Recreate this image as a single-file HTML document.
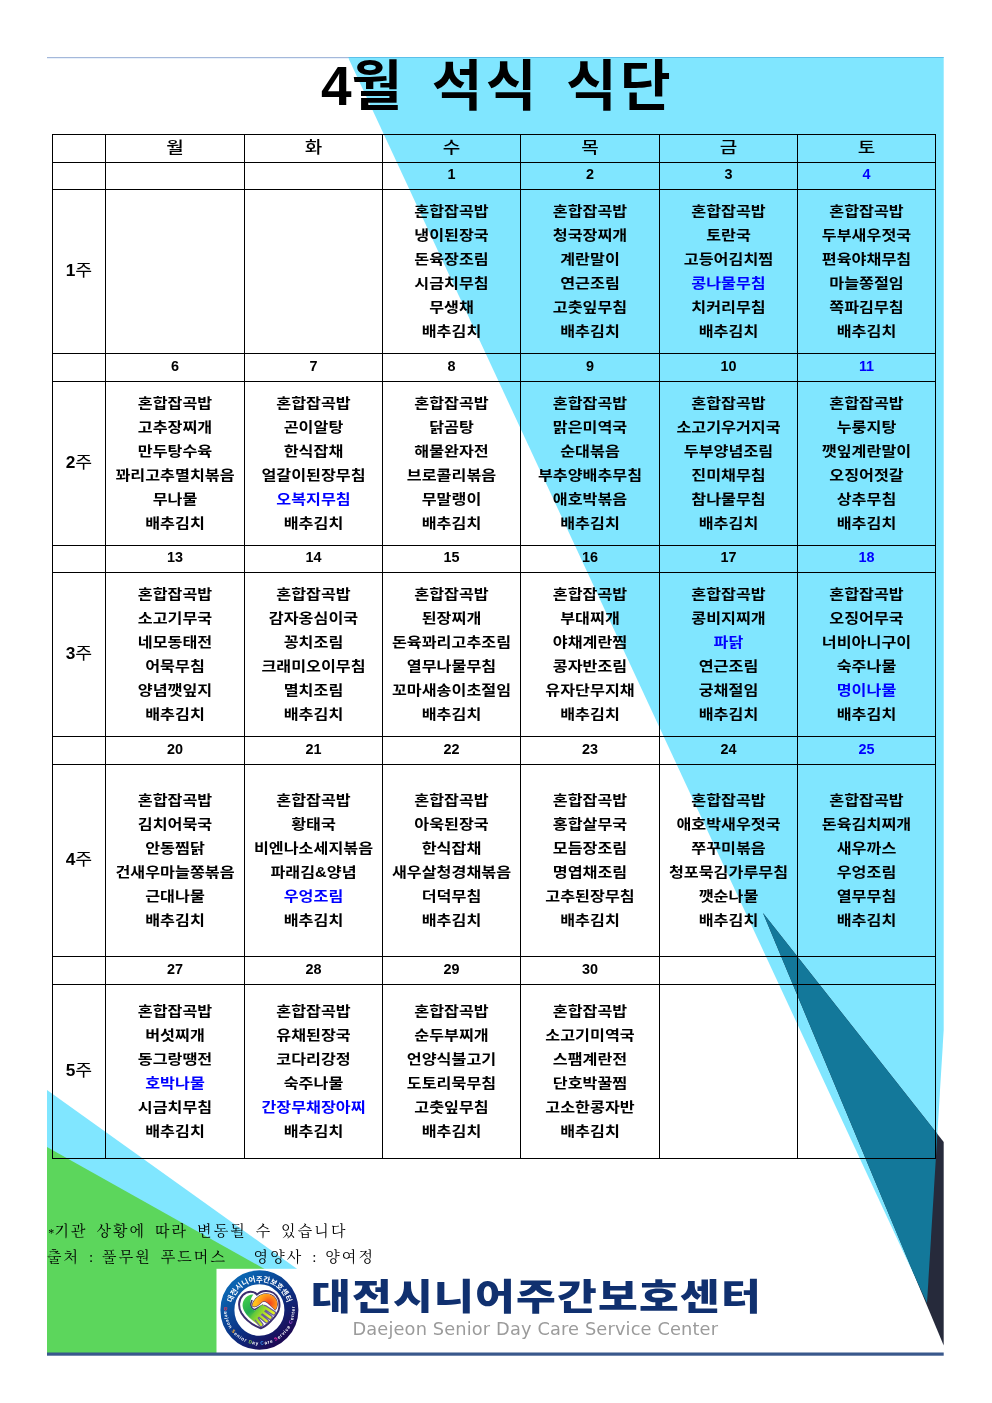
<!DOCTYPE html>
<html><head><meta charset="utf-8"><title>4월 석식 식단</title>
<style>
html,body{margin:0;padding:0;background:#fff;width:992px;height:1403px;overflow:hidden}
#pg{position:relative;width:992px;height:1403px;overflow:hidden;background:#fff;font-family:"Liberation Sans","Noto Sans CJK KR",sans-serif;color:#000}
#bg{position:absolute;left:0;top:0}
.ln{position:absolute;background:#000}
.c{position:absolute;text-align:center;white-space:nowrap}
.m{transform:scaleX(1.165);transform-origin:50% 50%;font-family:"Liberation Sans","Noto Sans CJK KR",sans-serif;font-weight:700;font-size:13.9px;line-height:24px;letter-spacing:0px}
.m div{height:24px}
.b{color:#0000ff}
.d{font-family:"Liberation Sans","Noto Sans CJK KR",sans-serif;font-weight:700;font-size:16px;transform:scale(0.9,0.97)}
.h{font-family:"Liberation Sans","Noto Sans CJK KR",sans-serif;font-weight:500;font-size:15.9px;transform:scaleX(1.2)}
.w{font-family:"Liberation Sans","Noto Sans CJK KR",sans-serif;font-weight:400;font-size:17px;transform:scaleX(1.08)}
.w b{font-family:"Liberation Sans",sans-serif;font-weight:700;font-size:16px}
#title{position:absolute;left:1.5px;top:58px;width:992px;text-align:center;font-family:"Liberation Sans","Noto Sans CJK KR",sans-serif;font-weight:700;font-size:55px;line-height:56px;white-space:pre;word-spacing:7.5px;letter-spacing:3.4px}
#title span{letter-spacing:0}
.note{position:absolute;left:47px;font-family:"Liberation Serif","Noto Serif CJK SC",serif;font-size:15px;line-height:20px;white-space:pre;letter-spacing:2.1px;word-spacing:3px}
.note span{letter-spacing:0}
#lg1{position:absolute;left:310.5px;top:1272px;transform:scaleX(1.2);transform-origin:0 0;font-family:"Liberation Sans","Noto Sans CJK KR",sans-serif;font-weight:900;font-size:36px;line-height:52px;color:#10306f;white-space:nowrap;letter-spacing:1.05px}
#lg2{position:absolute;left:352.5px;top:1318px;font-family:"DejaVu Sans","Liberation Sans",sans-serif;font-weight:400;font-size:17.8px;line-height:22px;color:#9b9b9b;white-space:nowrap;letter-spacing:0.14px}
</style></head><body><div id="pg">
<svg id="bg" width="992" height="1403" viewBox="0 0 992 1403">
<defs>
<linearGradient id="ring" x1="0.15" y1="0.1" x2="0.85" y2="0.95"><stop offset="0" stop-color="#0a63b0"/><stop offset="0.55" stop-color="#0b2f82"/><stop offset="1" stop-color="#1c0a55"/></linearGradient>
<linearGradient id="gl" gradientUnits="userSpaceOnUse" x1="-15" y1="-13" x2="2" y2="12"><stop offset="0" stop-color="#43cf4a"/><stop offset="0.5" stop-color="#22ab50"/><stop offset="0.8" stop-color="#7fd036"/><stop offset="1" stop-color="#d8ec22"/></linearGradient>
<radialGradient id="go" gradientUnits="userSpaceOnUse" cx="9.5" cy="-6.5" r="13"><stop offset="0" stop-color="#f23a1e"/><stop offset="0.55" stop-color="#ff8a1a"/><stop offset="1" stop-color="#ffc21c"/></radialGradient>
<linearGradient id="gh" gradientUnits="userSpaceOnUse" x1="-6" y1="-2" x2="12" y2="10"><stop offset="0" stop-color="#3fbd44"/><stop offset="0.5" stop-color="#a6dc2a"/><stop offset="1" stop-color="#f6f61e"/></linearGradient>
<clipPath id="cy"><polygon points="348,57.3 943.7,57.3 943.7,1030 927,1303"/></clipPath>
</defs>
<polygon points="348,57.3 943.7,57.3 943.7,1030 927,1303" fill="#80e6ff"/>
<polygon points="763,913 943.7,1142 943.7,1345.5" fill="#262a3b"/>
<polygon points="763,913 943.7,1142 943.7,1345.5" fill="#13789a" clip-path="url(#cy)"/>
<polygon points="47,1090 47,1354 416,1354" fill="#80e6ff"/>
<polygon points="47,1147 47,1354 416,1354" fill="#5cd65c"/>
<rect x="47" y="57" width="302" height="1" fill="#a4b8da"/><rect x="348.5" y="57" width="595.2" height="1" fill="#5cc0ea"/><rect x="47" y="58" width="301" height="1" fill="#e8f0fb"/>
<rect x="216.5" y="1268.8" width="600" height="84.5" fill="#fff"/>
<rect x="47" y="1352.5" width="896.7" height="3.2" fill="#39588c"/>
<g id="logo" transform="translate(259.4,1310)">
<ellipse cx="0" cy="0" rx="32" ry="32.7" fill="none" stroke="url(#ring)" stroke-width="14"/>
<path id="arcTop" d="M -28.5 0 A 28.5 28.5 0 0 1 28.5 0" fill="none"/>
<path id="arcBot" d="M -35.2 -3.1 A 35.3 35.3 0 1 0 35.2 -3.1" fill="none"/>
<text font-family="'Liberation Sans','Noto Sans CJK KR',sans-serif" font-weight="700" font-size="7.4" fill="#fff" text-anchor="middle"><textPath href="#arcTop" startOffset="50%">대전시니어주간보호센터</textPath></text>
<text font-family="'Liberation Sans',sans-serif" font-weight="700" font-size="4.7" fill="#fff"><textPath href="#arcBot" startOffset="0.5" textLength="116" lengthAdjust="spacing"><tspan fill="#ff3b4e">D</tspan>aejeon <tspan fill="#ffb02e">S</tspan>enior <tspan fill="#8fd14f">D</tspan>ay <tspan fill="#3aa0ff">C</tspan>are <tspan fill="#ff2fb0">S</tspan>ervice <tspan fill="#b45ae0">C</tspan>enter</textPath></text>
<g>
<path d="M -2.5 -15.3 C -5 -19 -12 -19.5 -16.5 -15 C -21 -10.5 -21.5 -3 -18 3 C -14 9.5 -6 15.5 1.4 18.2 C 4 17.5 8 14.5 11 11.5 C 14 8.5 16.5 6 17.5 3.5 C 20 0.5 21 -6 19 -11 C 17 -16 12 -19.2 6.5 -19.1 C 2.5 -19 -0.5 -17.5 -2.5 -15.3 Z" fill="#fff" stroke="#3b2e6e" stroke-width="2" stroke-linejoin="round"/>
<path d="M -7.6 -9.5 C -9.6 -5 -8.6 -1.2 -4.8 -0.3 L 3.3 -4.8" fill="none" stroke="#3f3273" stroke-width="1.6" stroke-linecap="round"/>
<path d="M -6 -15.4 C -12 -16 -17.2 -10 -16.8 -4 C -16.2 2 -11 7.2 -6.5 10.8 C -4 12.8 -1 15.2 1.3 16.8 L 3.6 14.6 L -2 8 L 2 3 L 7.2 -2 L 3.5 -4.6 L -4.8 0.4 C -8.6 -0.8 -10 -5 -9 -9 C -8.3 -11.6 -7.2 -13.8 -6 -15.4 Z" fill="url(#gl)"/>
<g stroke-linecap="round" fill="none">
<path d="M 5.5 -2.6 L 14.3 3.1 M 2.6 1.4 L 10.9 7.4 M -0.4 4.9 L 7.2 11.1 M -3.8 7.8 L 1.7 14.7" stroke="#6a5c9c" stroke-width="5"/>
<path d="M -5 6.5 L 3 -1.5" stroke="url(#gh)" stroke-width="6.5"/>
<path d="M 5.5 -2.6 L 14.3 3.1" stroke="url(#gh)" stroke-width="2.5"/>
<path d="M 2.6 1.4 L 10.9 7.4" stroke="url(#gh)" stroke-width="2.5"/>
<path d="M -0.4 4.9 L 7.2 11.1" stroke="url(#gh)" stroke-width="2.5"/>
<path d="M -3.8 7.8 L 1.7 14.7" stroke="url(#gh)" stroke-width="2.5"/>
</g>
<path d="M -7.2 -4.6 C -6.5 -9 -2 -14.5 4.2 -16 C 9 -17 14 -15 16.5 -11 C 18.8 -7 18 -2.5 15.8 0 C 14.5 -1.5 13 -3 12 -3.6 C 10 -5.5 8 -8 6 -8.6 C 4.5 -9 3.2 -8.8 2 -7.6 C 0.5 -6 -1 -4.8 -2.5 -4 C -4.5 -3 -6.5 -3.3 -7.2 -4.6 Z" fill="url(#go)" stroke="#3f3273" stroke-width="1.1" stroke-linejoin="round" paint-order="stroke"/>
</g>
</g>
</svg>
<div class="ln" style="left:52px;top:134px;width:1px;height:1025px"></div><div class="ln" style="left:105px;top:134px;width:1px;height:1025px"></div><div class="ln" style="left:244px;top:134px;width:1px;height:1025px"></div><div class="ln" style="left:382px;top:134px;width:1px;height:1025px"></div><div class="ln" style="left:520px;top:134px;width:1px;height:1025px"></div><div class="ln" style="left:659px;top:134px;width:1px;height:1025px"></div><div class="ln" style="left:797px;top:134px;width:1px;height:1025px"></div><div class="ln" style="left:935px;top:134px;width:1px;height:1025px"></div><div class="ln" style="left:52px;top:134px;width:884px;height:1px"></div><div class="ln" style="left:52px;top:162px;width:884px;height:1px"></div><div class="ln" style="left:52px;top:189px;width:884px;height:1px"></div><div class="ln" style="left:52px;top:353px;width:884px;height:1px"></div><div class="ln" style="left:52px;top:381px;width:884px;height:1px"></div><div class="ln" style="left:52px;top:545px;width:884px;height:1px"></div><div class="ln" style="left:52px;top:572px;width:884px;height:1px"></div><div class="ln" style="left:52px;top:736px;width:884px;height:1px"></div><div class="ln" style="left:52px;top:764px;width:884px;height:1px"></div><div class="ln" style="left:52px;top:956px;width:884px;height:1px"></div><div class="ln" style="left:52px;top:984px;width:884px;height:1px"></div><div class="ln" style="left:52px;top:1158px;width:884px;height:1px"></div>
<div class="c h" style="left:106px;top:134.2px;width:138px;height:27px;line-height:27px">월</div><div class="c h" style="left:245px;top:134.2px;width:137px;height:27px;line-height:27px">화</div><div class="c h" style="left:383px;top:134.2px;width:137px;height:27px;line-height:27px">수</div><div class="c h" style="left:521px;top:134.2px;width:138px;height:27px;line-height:27px">목</div><div class="c h" style="left:660px;top:134.2px;width:137px;height:27px;line-height:27px">금</div><div class="c h" style="left:798px;top:134.2px;width:137px;height:27px;line-height:27px">토</div>
<div class="c d" style="left:383px;top:161px;width:137px;height:26px;line-height:26px">1</div><div class="c d" style="left:521px;top:161px;width:138px;height:26px;line-height:26px">2</div><div class="c d" style="left:660px;top:161px;width:137px;height:26px;line-height:26px">3</div><div class="c d b" style="left:798px;top:161px;width:137px;height:26px;line-height:26px">4</div><div class="c w" style="left:53px;top:189px;width:52px;height:163px;line-height:163px"><b>1</b>주</div><div class="c m" style="left:362.5px;top:199.3px;width:177px"><div>혼합잡곡밥</div><div>냉이된장국</div><div>돈육장조림</div><div>시금치무침</div><div>무생채</div><div>배추김치</div></div><div class="c m" style="left:500.5px;top:199.3px;width:178px"><div>혼합잡곡밥</div><div>청국장찌개</div><div>계란말이</div><div>연근조림</div><div>고춧잎무침</div><div>배추김치</div></div><div class="c m" style="left:639.5px;top:199.3px;width:177px"><div>혼합잡곡밥</div><div>토란국</div><div>고등어김치찜</div><div class="b">콩나물무침</div><div>치커리무침</div><div>배추김치</div></div><div class="c m" style="left:777.5px;top:199.3px;width:177px"><div>혼합잡곡밥</div><div>두부새우젓국</div><div>편육야채무침</div><div>마늘쫑절임</div><div>쪽파김무침</div><div>배추김치</div></div>
<div class="c d" style="left:106px;top:352px;width:138px;height:27px;line-height:27px">6</div><div class="c d" style="left:245px;top:352px;width:137px;height:27px;line-height:27px">7</div><div class="c d" style="left:383px;top:352px;width:137px;height:27px;line-height:27px">8</div><div class="c d" style="left:521px;top:352px;width:138px;height:27px;line-height:27px">9</div><div class="c d" style="left:660px;top:352px;width:137px;height:27px;line-height:27px">10</div><div class="c d b" style="left:798px;top:352px;width:137px;height:27px;line-height:27px">11</div><div class="c w" style="left:53px;top:381px;width:52px;height:163px;line-height:163px"><b>2</b>주</div><div class="c m" style="left:85.5px;top:391.3px;width:178px"><div>혼합잡곡밥</div><div>고추장찌개</div><div>만두탕수육</div><div>꽈리고추멸치볶음</div><div>무나물</div><div>배추김치</div></div><div class="c m" style="left:224.5px;top:391.3px;width:177px"><div>혼합잡곡밥</div><div>곤이알탕</div><div>한식잡채</div><div>얼갈이된장무침</div><div class="b">오복지무침</div><div>배추김치</div></div><div class="c m" style="left:362.5px;top:391.3px;width:177px"><div>혼합잡곡밥</div><div>닭곰탕</div><div>해물완자전</div><div>브로콜리볶음</div><div>무말랭이</div><div>배추김치</div></div><div class="c m" style="left:500.5px;top:391.3px;width:178px"><div>혼합잡곡밥</div><div>맑은미역국</div><div>순대볶음</div><div>부추양배추무침</div><div>애호박볶음</div><div>배추김치</div></div><div class="c m" style="left:639.5px;top:391.3px;width:177px"><div>혼합잡곡밥</div><div>소고기우거지국</div><div>두부양념조림</div><div>진미채무침</div><div>참나물무침</div><div>배추김치</div></div><div class="c m" style="left:777.5px;top:391.3px;width:177px"><div>혼합잡곡밥</div><div>누룽지탕</div><div>깻잎계란말이</div><div>오징어젓갈</div><div>상추무침</div><div>배추김치</div></div>
<div class="c d" style="left:106px;top:544px;width:138px;height:26px;line-height:26px">13</div><div class="c d" style="left:245px;top:544px;width:137px;height:26px;line-height:26px">14</div><div class="c d" style="left:383px;top:544px;width:137px;height:26px;line-height:26px">15</div><div class="c d" style="left:521px;top:544px;width:138px;height:26px;line-height:26px">16</div><div class="c d" style="left:660px;top:544px;width:137px;height:26px;line-height:26px">17</div><div class="c d b" style="left:798px;top:544px;width:137px;height:26px;line-height:26px">18</div><div class="c w" style="left:53px;top:572px;width:52px;height:163px;line-height:163px"><b>3</b>주</div><div class="c m" style="left:85.5px;top:582.3px;width:178px"><div>혼합잡곡밥</div><div>소고기무국</div><div>네모동태전</div><div>어묵무침</div><div>양념깻잎지</div><div>배추김치</div></div><div class="c m" style="left:224.5px;top:582.3px;width:177px"><div>혼합잡곡밥</div><div>감자옹심이국</div><div>꽁치조림</div><div>크래미오이무침</div><div>멸치조림</div><div>배추김치</div></div><div class="c m" style="left:362.5px;top:582.3px;width:177px"><div>혼합잡곡밥</div><div>된장찌개</div><div>돈육꽈리고추조림</div><div>열무나물무침</div><div>꼬마새송이초절임</div><div>배추김치</div></div><div class="c m" style="left:500.5px;top:582.3px;width:178px"><div>혼합잡곡밥</div><div>부대찌개</div><div>야채계란찜</div><div>콩자반조림</div><div>유자단무지채</div><div>배추김치</div></div><div class="c m" style="left:639.5px;top:582.3px;width:177px"><div>혼합잡곡밥</div><div>콩비지찌개</div><div class="b">파닭</div><div>연근조림</div><div>궁채절임</div><div>배추김치</div></div><div class="c m" style="left:777.5px;top:582.3px;width:177px"><div>혼합잡곡밥</div><div>오징어무국</div><div>너비아니구이</div><div>숙주나물</div><div class="b">명이나물</div><div>배추김치</div></div>
<div class="c d" style="left:106px;top:735px;width:138px;height:27px;line-height:27px">20</div><div class="c d" style="left:245px;top:735px;width:137px;height:27px;line-height:27px">21</div><div class="c d" style="left:383px;top:735px;width:137px;height:27px;line-height:27px">22</div><div class="c d" style="left:521px;top:735px;width:138px;height:27px;line-height:27px">23</div><div class="c d" style="left:660px;top:735px;width:137px;height:27px;line-height:27px">24</div><div class="c d b" style="left:798px;top:735px;width:137px;height:27px;line-height:27px">25</div><div class="c w" style="left:53px;top:764px;width:52px;height:191px;line-height:191px"><b>4</b>주</div><div class="c m" style="left:85.5px;top:788.3px;width:178px"><div>혼합잡곡밥</div><div>김치어묵국</div><div>안동찜닭</div><div>건새우마늘쫑볶음</div><div>근대나물</div><div>배추김치</div></div><div class="c m" style="left:224.5px;top:788.3px;width:177px"><div>혼합잡곡밥</div><div>황태국</div><div>비엔나소세지볶음</div><div>파래김&amp;양념</div><div class="b">우엉조림</div><div>배추김치</div></div><div class="c m" style="left:362.5px;top:788.3px;width:177px"><div>혼합잡곡밥</div><div>아욱된장국</div><div>한식잡채</div><div>새우살청경채볶음</div><div>더덕무침</div><div>배추김치</div></div><div class="c m" style="left:500.5px;top:788.3px;width:178px"><div>혼합잡곡밥</div><div>홍합살무국</div><div>모듬장조림</div><div>명엽채조림</div><div>고추된장무침</div><div>배추김치</div></div><div class="c m" style="left:639.5px;top:788.3px;width:177px"><div>혼합잡곡밥</div><div>애호박새우젓국</div><div>쭈꾸미볶음</div><div>청포묵김가루무침</div><div>깻순나물</div><div>배추김치</div></div><div class="c m" style="left:777.5px;top:788.3px;width:177px"><div>혼합잡곡밥</div><div>돈육김치찌개</div><div>새우까스</div><div>우엉조림</div><div>열무무침</div><div>배추김치</div></div>
<div class="c d" style="left:106px;top:955px;width:138px;height:27px;line-height:27px">27</div><div class="c d" style="left:245px;top:955px;width:137px;height:27px;line-height:27px">28</div><div class="c d" style="left:383px;top:955px;width:137px;height:27px;line-height:27px">29</div><div class="c d" style="left:521px;top:955px;width:138px;height:27px;line-height:27px">30</div><div class="c w" style="left:53px;top:984px;width:52px;height:173px;line-height:173px"><b>5</b>주</div><div class="c m" style="left:85.5px;top:999.3px;width:178px"><div>혼합잡곡밥</div><div>버섯찌개</div><div>동그랑땡전</div><div class="b">호박나물</div><div>시금치무침</div><div>배추김치</div></div><div class="c m" style="left:224.5px;top:999.3px;width:177px"><div>혼합잡곡밥</div><div>유채된장국</div><div>코다리강정</div><div>숙주나물</div><div class="b">간장무채장아찌</div><div>배추김치</div></div><div class="c m" style="left:362.5px;top:999.3px;width:177px"><div>혼합잡곡밥</div><div>순두부찌개</div><div>언양식불고기</div><div>도토리묵무침</div><div>고춧잎무침</div><div>배추김치</div></div><div class="c m" style="left:500.5px;top:999.3px;width:178px"><div>혼합잡곡밥</div><div>소고기미역국</div><div>스팸계란전</div><div>단호박꿀찜</div><div>고소한콩자반</div><div>배추김치</div></div>
<div id="title"><span>4</span>월 석식 식단</div>
<div class="note" style="top:1221px"><span style="position:relative;top:1px;font-size:12px;margin-left:1.2px;margin-right:0.2px">*</span>기관 상황에 따라 변동될 수 있습니다</div>
<div class="note" style="top:1247px">출처 <span>:</span> 풀무원 푸드머스   영양사 <span>:</span> 양여정</div>
<div id="lg1">대전시니어주간보호센터</div>
<div id="lg2">Daejeon Senior Day Care Service Center</div>
</div></body></html>
